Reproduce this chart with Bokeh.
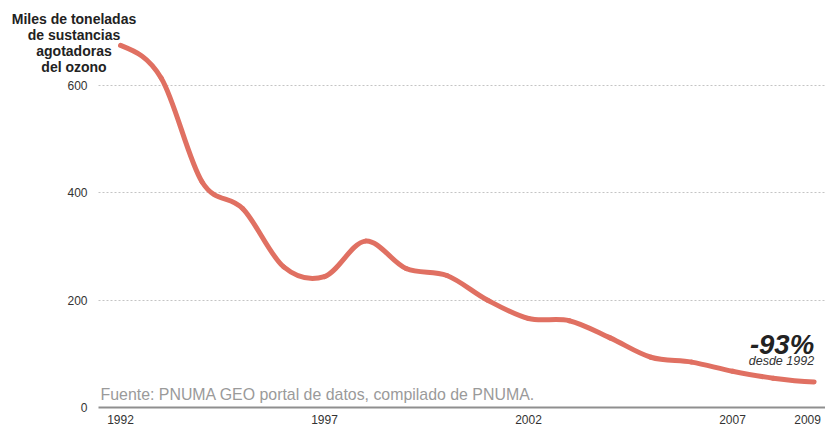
from bokeh.plotting import figure
from bokeh.models import Range1d, FixedTicker, Label, ColumnDataSource
from bokeh.embed import file_html
from bokeh.resources import INLINE

# ---- data -------------------------------------------------------------
years = [1992, 1993, 1994, 1995, 1996, 1997, 1998, 1999, 2000,
         2001, 2002, 2003, 2004, 2005, 2006, 2007, 2008, 2009]
values = [674, 613, 420, 370, 262, 244, 310, 259, 246,
          200, 166, 162, 130, 94, 85, 68, 55, 48]
x_tick_labels = [1992, 1997, 2002, 2007, 2009]
y_tick_labels = [0, 200, 400, 600]
y_title = "Miles de toneladas\nde sustancias\nagotadoras\ndel ozono"
source_text = "Fuente: PNUMA GEO portal de datos, compilado de PNUMA."

# ---- smooth (cardinal / Catmull-Rom) path built from the data ----------
n = len(values)
tang = []
for i in range(n):
    lo = max(i - 1, 0)
    hi = min(i + 1, n - 1)
    tang.append((values[hi] - values[lo]) / 2.0)
seg = ColumnDataSource(dict(
    x0=years[:-1], y0=values[:-1],
    x1=years[1:], y1=values[1:],
    cx0=[x + 1 / 3 for x in years[:-1]],
    cy0=[values[i] + tang[i] / 3 for i in range(n - 1)],
    cx1=[x - 1 / 3 for x in years[1:]],
    cy1=[values[i + 1] - tang[i + 1] / 3 for i in range(n - 1)],
))

FONT = "Liberation Sans"
LINE = "#e07062"

W, H = 825, 429
PX_YEAR = 40.8                       # horizontal scale
x0r = 1992 - 120 / PX_YEAR           # left edge of canvas
x1r = x0r + W / PX_YEAR
axis_x = 1992 - 22 / PX_YEAR         # where the value axis sits
PX_UNIT = 0.5377                     # vertical scale
y1r = 407.3 / PX_UNIT
y0r = -(H - 407.3) / PX_UNIT
X_STANDOFF = 7

p = figure(width=W, height=H, output_backend="svg", toolbar_location=None,
           x_range=Range1d(x0r, x1r), y_range=Range1d(y0r, y1r),
           min_border_left=0, min_border_right=0, min_border_top=0,
           min_border_bottom=0)
p.outline_line_color = None
p.background_fill_color = "white"
p.border_fill_color = "white"

# ---- grid ---------------------------------------------------------------
p.xgrid.visible = False
g = p.ygrid[0]
g.ticker = FixedTicker(ticks=y_tick_labels[1:])
g.grid_line_color = "#c4c4c4"
g.grid_line_dash = "2 2"
g.grid_line_width = 1
try:
    g.cross_bounds = (axis_x, x1r)
except AttributeError:
    g.visible = False
    gt = y_tick_labels[1:]
    p.segment(x0=[axis_x] * len(gt), y0=gt, x1=[x1r] * len(gt), y1=gt,
              line_color="#c4c4c4", line_dash="2 2", line_width=1)

# ---- axes ---------------------------------------------------------------
xa = p.xaxis[0]
xa.fixed_location = 0
xa.bounds = (axis_x, x1r)
xa.ticker = FixedTicker(ticks=x_tick_labels[:-1])
xa.major_tick_out = 0
xa.major_tick_in = 0
xa.minor_tick_out = 0
xa.minor_tick_in = 0
xa.axis_line_color = "#8f8f8f"
xa.axis_line_width = 2
xa.major_label_text_font = FONT
xa.major_label_text_font_size = "12px"
xa.major_label_text_color = "#333333"
xa.major_label_standoff = X_STANDOFF

ya = p.yaxis[0]
ya.fixed_location = axis_x
ya.ticker = FixedTicker(ticks=y_tick_labels)
ya.major_tick_out = 0
ya.major_tick_in = 0
ya.minor_tick_out = 0
ya.minor_tick_in = 0
ya.axis_line_color = None
ya.major_label_text_font = FONT
ya.major_label_text_font_size = "12px"
ya.major_label_text_color = "#333333"
ya.major_label_standoff = 11

# ---- data line ------------------------------------------------------------
p.bezier(x0="x0", y0="y0", x1="x1", y1="y1", cx0="cx0", cy0="cy0",
         cx1="cx1", cy1="cy1", source=seg, line_color=LINE, line_width=5,
         line_cap="round")

# last x tick label, nudged left so it stays inside the page
p.add_layout(Label(x=x_tick_labels[-1], y=0, x_offset=-6.5,
                   y_offset=-X_STANDOFF,
                   text=str(x_tick_labels[-1]), text_align="center",
                   text_baseline="top", text_font=FONT, text_font_size="12px",
                   text_color="#333333"))

# y title (top-left)
p.add_layout(Label(x=73.5, y=H - 10.3, x_units="screen", y_units="screen",
                   text=y_title, text_align="center", text_baseline="top",
                   text_font=FONT, text_font_size="14px",
                   text_font_style="bold", text_color="#222222",
                   text_line_height=1.0))

# source
p.add_layout(Label(x=axis_x, y=0, x_offset=2, y_offset=13,
                   text=source_text, text_align="left",
                   text_baseline="alphabetic", text_font=FONT,
                   text_font_size="15.9px", text_color="#9a9a9a"))

# change annotation
pct = round((values[-1] / values[0] - 1) * 100)
p.add_layout(Label(x=years[-1], y=values[-1], y_offset=37, text=f"{pct}%",
                   text_align="right", text_baseline="alphabetic",
                   text_font=FONT, text_font_size="27.5px",
                   text_font_style="bold italic", text_color="#222222"))
p.add_layout(Label(x=years[-1], y=values[-1], y_offset=21,
                   text=f"desde {years[0]}", text_align="right",
                   text_baseline="alphabetic", text_font=FONT,
                   text_font_size="12.5px", text_font_style="italic",
                   text_color="#333333"))

open("out.html", "w").write(file_html(p, INLINE))
